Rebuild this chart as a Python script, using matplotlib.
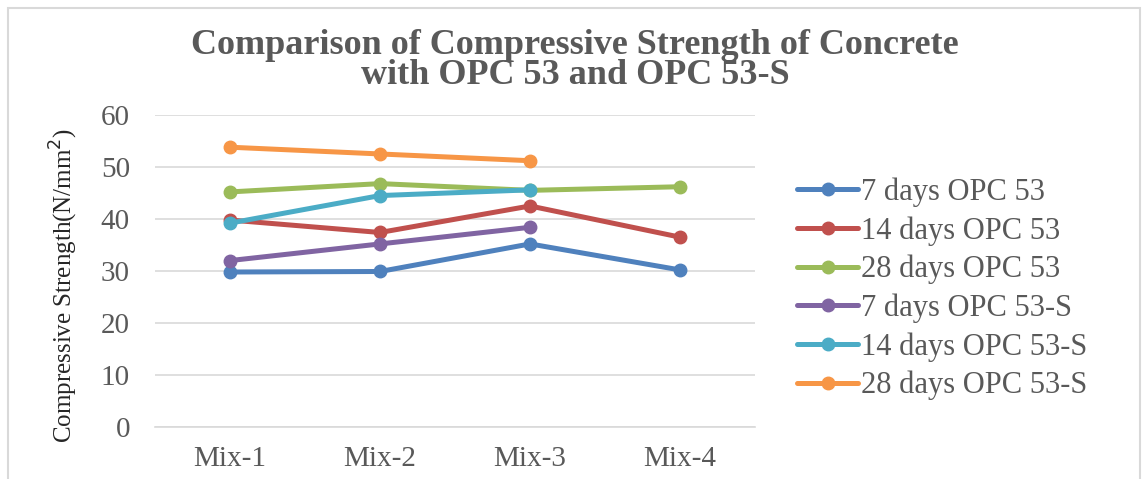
import numpy as np
import matplotlib
matplotlib.use('Agg')
import matplotlib.pyplot as plt
from matplotlib.patches import Rectangle

plt.rcParams['font.family'] = ['Liberation Serif', 'DejaVu Serif']

# data
mixes = ['Mix-1', 'Mix-2', 'Mix-3', 'Mix-4']
opc53_7 = [29.8, 29.9, 35.2, 30.2]
opc53_14 = [39.8, 37.4, 42.5, 36.5]
opc53_28 = [45.2, 46.8, 45.5, 46.2]
opc53s_7 = [32.0, 35.2, 38.4]
opc53s_14 = [39.2, 44.5, 45.6]
opc53s_28 = [53.8, 52.5, 51.2]

series = [
    ('7 days OPC 53', opc53_7, '#4F81BD'),
    ('14 days OPC 53', opc53_14, '#C0504D'),
    ('28 days OPC 53', opc53_28, '#9BBB59'),
    ('7 days OPC 53-S', opc53s_7, '#8064A2'),
    ('14 days OPC 53-S', opc53s_14, '#4BACC6'),
    ('28 days OPC 53-S', opc53s_28, '#F79646'),
]

text_col = '#595959'

fig = plt.figure(figsize=(11.43, 4.79), dpi=100)
ax = fig.add_axes([0.1356, 0.1086, 0.525, 0.6514])

x = np.arange(len(mixes))
for name, vals, col in series:
    ax.plot(x[:len(vals)], vals, '-o', color=col, lw=3.6, ms=9, label=name,
            solid_capstyle='round')

ax.set_xlim(-0.5, 3.5)
ax.set_ylim(0, 60)
ax.set_yticks(range(0, 61, 10))
ax.set_xticks(x)
ax.set_xticklabels(mixes)
ax.grid(axis='y', color='#D9D9D9', lw=1.2)
ax.set_axisbelow(True)
for s in ['top', 'right', 'left']:
    ax.spines[s].set_visible(False)
ax.spines['bottom'].set_color('#D9D9D9')
ax.spines['bottom'].set_linewidth(1.2)
ax.tick_params(length=0, labelsize=21, labelcolor=text_col)
ax.tick_params(axis='x', pad=14)
ax.tick_params(axis='y', pad=18)
ax.set_ylabel('Compressive Strength(N/mm$^2$)', fontsize=18, color='#262626')
ax.yaxis.set_label_coords(-0.125, 0.455)

fig.text(0.503, 0.94, 'Comparison of Compressive Strength of Concrete\nwith OPC 53 and OPC 53-S',
         ha='center', va='top', fontsize=26, fontweight='bold', color=text_col,
         linespacing=0.9)

leg = fig.legend(loc='center left', bbox_to_anchor=(0.684, 0.397), frameon=False,
                 fontsize=22, handlelength=2.0, handletextpad=0.1, labelspacing=0.3,
                 borderpad=0)
for t in leg.get_texts():
    t.set_color(text_col)

fig.patches.append(Rectangle((0.007, -0.01), 0.99, 0.993, transform=fig.transFigure,
                             fill=False, edgecolor='#D9D9D9', lw=1.5))

fig.savefig('out.png', dpi=100)
